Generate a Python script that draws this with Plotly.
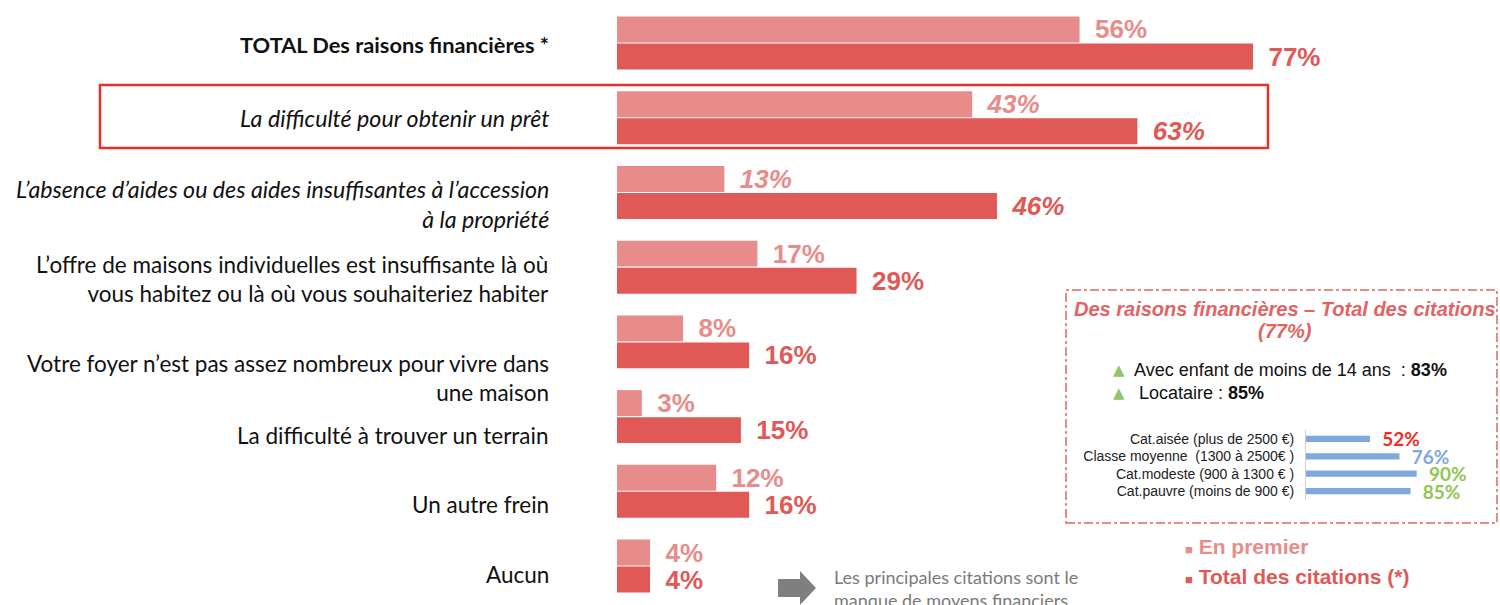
import plotly.graph_objects as go

# ---------------- data ----------------
categories = [
    "TOTAL Des raisons financières *",
    "La difficulté pour obtenir un prêt",
    "L’absence d’aides ou des aides insuffisantes à l’accession<br>à la propriété",
    "L’offre de maisons individuelles est insuffisante là où<br>vous habitez ou là où vous souhaiteriez habiter",
    "Votre foyer n’est pas assez nombreux pour vivre dans<br>une maison",
    "La difficulté à trouver un terrain",
    "Un autre frein",
    "Aucun",
]
en_premier = [56, 43, 13, 17, 8, 3, 12, 4]
total_citations = [77, 63, 46, 29, 16, 15, 16, 4]

series_names = ["En premier", "Total des citations (*)"]

inset_categories = [
    "Cat.aisée (plus de 2500 €)",
    "Classe moyenne  (1300 à 2500€ )",
    "Cat.modeste (900 à 1300 € )",
    "Cat.pauvre (moins de 900 €)",
]
inset_values = [52, 76, 90, 85]

inset_title_lines = ["Des raisons financières – Total des citations", "(77%)"]
inset_facts = [("Avec enfant de moins de 14 ans  : ", "83%"), (" Locataire : ", "85%")]
note_text = "Les principales citations sont le<br>manque de moyens financiers"

# ---------------- styles ----------------
W, H = 1500, 605
LIGHT = "#E78C8B"
DARK = "#E05956"
label_style = ["bold", "italic", "italic", "normal", "normal", "normal", "normal", "normal"]
label_shift = [-2, 0, -12, -12, -36, -19, -13, -8]
inset_value_colors = ["#EE3124", "#7FA8DE", "#92C553", "#92C553"]


def px(x):
    return x / W


def py(y):
    return 1 - y / H


keys = [f"c{i}" for i in range(len(categories))]


def fmt(v, style):
    t = f"\u00a0\u2009{v}%"
    return f"<i>{t}</i>" if style == "italic" else t


fig = go.Figure()
fig.add_trace(go.Bar(
    y=keys, x=en_premier, orientation="h", name=series_names[0],
    marker=dict(color=LIGHT, line=dict(width=0)),
    text=[fmt(v, s) for v, s in zip(en_premier, label_style)],
    textposition="outside", cliponaxis=False, constraintext="none",
    textfont=dict(family="Liberation Sans, Arial", size=26, color=LIGHT, weight="bold"),
    xaxis="x", yaxis="y",
))
fig.add_trace(go.Bar(
    y=keys, x=total_citations, orientation="h", name=series_names[1],
    marker=dict(color=DARK, line=dict(width=0)),
    text=[fmt(v, s) for v, s in zip(total_citations, label_style)],
    textposition="outside", cliponaxis=False, constraintext="none",
    textfont=dict(family="Liberation Sans, Arial", size=26, color=DARK, weight="bold"),
    xaxis="x", yaxis="y",
))
fig.add_trace(go.Bar(
    y=inset_categories, x=inset_values, orientation="h", width=0.36,
    marker=dict(color="#7FA8DE", line=dict(width=0)),
    text=[f"\u00a0\u00a0{v}%" for v in inset_values],
    textposition="outside", cliponaxis=False, constraintext="none",
    textfont=dict(family="Lato, Liberation Sans", size=19, color=inset_value_colors, weight="bold"),
    xaxis="x2", yaxis="y2", showlegend=False,
))

annotations = []
for k, lab, st, sh in zip(keys, categories, label_style, label_shift):
    size = 22.5
    txt = lab
    if st == "bold":
        txt = f"<b>{lab}</b>"
        size = 21.8
    elif st == "italic":
        txt = f"<i>{lab}</i>"
        size = 23.2
    annotations.append(dict(
        x=px(551), xref="paper", xanchor="right", y=k, yref="y", yshift=sh,
        text=txt, showarrow=False, align="right",
        font=dict(family="Lato, Open Sans", size=size, color="#111111"),
    ))

# inset texts
for i, line in enumerate(inset_title_lines):
    annotations.append(dict(
        x=px(1285), y=py(309 + 22 * i), xref="paper", yref="paper", xanchor="center", yanchor="middle",
        text=f"<b><i>{line}</i></b>", showarrow=False, align="center",
        font=dict(family="Liberation Sans, Arial", size=20, color="#E06464"),
    ))
for i, (a, b) in enumerate(inset_facts):
    annotations.append(dict(
        x=px(1119), y=py(370 + 23 * i), xref="paper", yref="paper", xanchor="center", yanchor="middle",
        text="▲", showarrow=False, font=dict(family="DejaVu Sans", size=15, color="#92C46D"),
    ))
    annotations.append(dict(
        x=px(1132), y=py(370 + 23 * i), xref="paper", yref="paper", xanchor="left", yanchor="middle",
        text=a.replace(" ", "\u00a0") + f"<b>{b}</b>",
        showarrow=False, font=dict(family="Liberation Sans, Arial", size=18, color="#111111"),
    ))

# legend (styled text)
for i, (nm, col) in enumerate(zip(series_names, [LIGHT, DARK])):
    annotations.append(dict(
        x=px(1183), y=py(546 + 30 * i), xref="paper", yref="paper", xanchor="left", yanchor="middle",
        text=f"<span style='font-size:13px'>■</span> <b>{nm}</b>", showarrow=False,
        font=dict(family="Liberation Sans, Arial", size=21, color=col),
    ))

# note
annotations.append(dict(
    x=px(832), y=py(576), xref="paper", yref="paper", xanchor="left", yanchor="top",
    yshift=12, text=note_text, showarrow=False, align="left",
    font=dict(family="Lato, Open Sans", size=18, color="#7A7A7A"),
))

shapes = [
    # highlight box around "prêt" row
    dict(type="rect", xref="paper", yref="paper", x0=px(100), x1=px(1268), y0=py(148), y1=py(85),
         line=dict(color="#E8302A", width=2.5), fillcolor="rgba(0,0,0,0)"),
    # inset dash-dot frame
    dict(type="rect", xref="paper", yref="paper", x0=px(1066), x1=px(1497), y0=py(523), y1=py(290),
         line=dict(color="#E06464", width=1.5, dash="dashdot"), fillcolor="rgba(0,0,0,0)"),
    # arrow
    dict(type="path", xref="paper", yref="paper",
         path=(f"M {px(778)} {py(579)} L {px(800)} {py(579)} L {px(800)} {py(571)} "
               f"L {px(816)} {py(588)} L {px(800)} {py(605)} L {px(800)} {py(597)} "
               f"L {px(778)} {py(597)} Z"),
         fillcolor="#7F7F7F", line=dict(width=0)),
]

fig.update_layout(
    width=W, height=H,
    margin=dict(l=0, r=0, t=0, b=0),
    paper_bgcolor="white", plot_bgcolor="white",
    barmode="group", bargap=0.277, bargroupgap=0.04,
    showlegend=False,
    xaxis=dict(domain=[px(617), 1], range=[0, (W - 617) / 8.26], visible=False, fixedrange=True),
    yaxis=dict(domain=[1 - 603.4 / H, 1 - 5.64 / H], autorange="reversed", showticklabels=False,
               showgrid=False, zeroline=False, ticks="", fixedrange=True),
    xaxis2=dict(domain=[px(1306), px(1497)], range=[0, (1497 - 1306) / 1.23], visible=False,
                anchor="y2", fixedrange=True),
    yaxis2=dict(domain=[1 - 499.7 / H, 1 - 430.3 / H], autorange="reversed", anchor="x2",
                showline=True, linecolor="#D0D0D0", linewidth=1, ticks="", showgrid=False,
                ticklabelstandoff=8,
                tickfont=dict(family="Liberation Sans, Arial", size=14, color="#222222"),
                fixedrange=True),
    annotations=annotations,
    shapes=shapes,
)

fig.write_html("out.html", post_script="document.body.style.margin='0';",
               config={"displayModeBar": False})
